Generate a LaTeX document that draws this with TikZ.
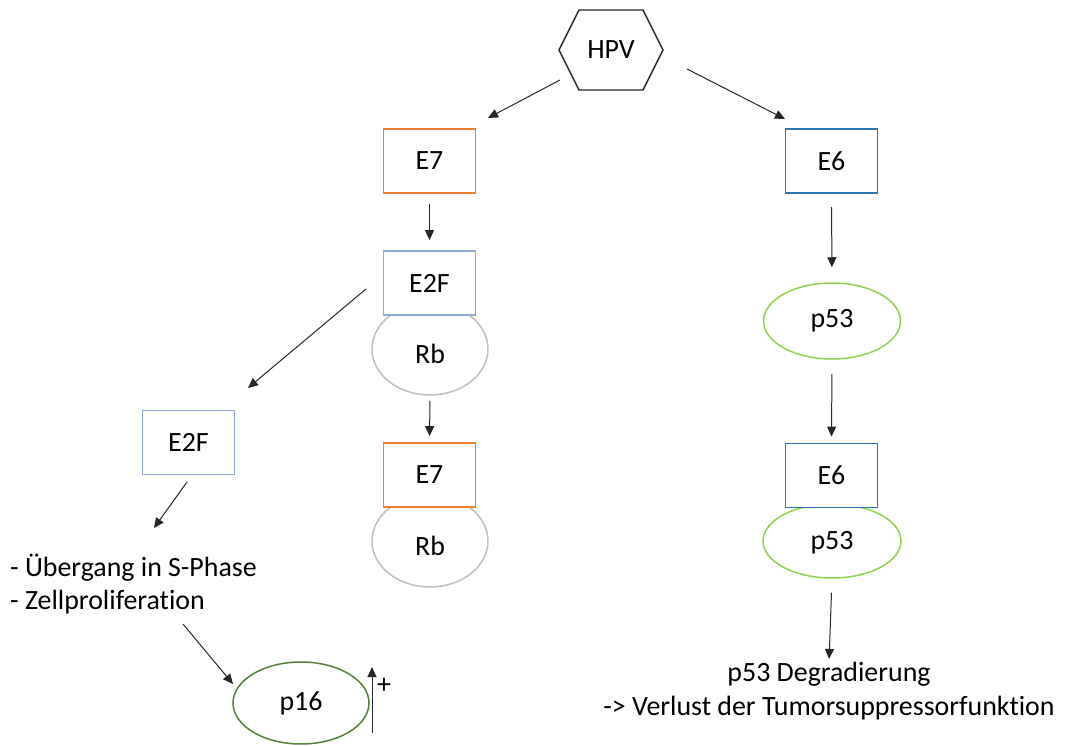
\documentclass[tikz,border=0pt]{standalone}
\usepackage{fontspec}
\setmainfont{Carlito}[Ligatures=NoCommon]
\usetikzlibrary{shapes.geometric,arrows.meta}
\definecolor{corange}{HTML}{ED7D31}
\definecolor{cblue}{HTML}{2E75B6}
\definecolor{clblue}{HTML}{8FAADC}
\definecolor{cgray}{HTML}{BFBFBF}
\definecolor{clgreen}{HTML}{92D050}
\definecolor{cdgreen}{HTML}{548235}
\tikzset{
  lbl/.style={font=\fontsize{28}{34}\selectfont},
  boxnode/.style={lbl, line width=1.8bp, fill=white, minimum width=92bp, minimum height=64bp, inner sep=0pt},
  ellnode/.style={lbl, ellipse, line width=1.5bp, fill=white, inner sep=0pt},
  arr/.style={draw=black!85, line width=1bp, -{Triangle[length=10bp,width=9bp]}},
}
\begin{document}
\begin{tikzpicture}[x=1bp,y=-1bp]
\useasboundingbox (0,0) rectangle (1065,746);
% HPV hexagon
\coordinate (h1) at (559,50);
\coordinate (h2) at (579,10);
\coordinate (h3) at (643,10);
\coordinate (h4) at (663,50);
\coordinate (h5) at (643,90);
\coordinate (h6) at (579,90);
\draw[line width=1.4bp, black!85] (h1) -- (h2) -- (h3) -- (h4) -- (h5) -- (h6) -- cycle;
\node[lbl] (hpv) at (611,50) {HPV};
% left branch
\node[boxnode, draw=corange] (e7a) at (429.5,161) {E7};
\node[ellnode, draw=cgray, minimum width=116bp, minimum height=92bp] (rba) at (430,349) {};
\node[boxnode, draw=clblue] (e2fa) at (429.5,283) {E2F};
\node[lbl] (rbalbl) at (430,354) {Rb};
\node[ellnode, draw=cgray, minimum width=116bp, minimum height=92bp] (rbb) at (430,541) {};
\node[boxnode, draw=corange] (e7b) at (429.5,475) {E7};
\node[lbl] (rbblbl) at (430,546) {Rb};
\node[boxnode, draw=clblue] (e2fb) at (188.5,442.5) {E2F};
\node[lbl, align=left, anchor=west, inner sep=0pt] (sphase) at (10,584) {- Übergang in S-Phase\\- Zellproliferation};
\node[ellnode, draw=cdgreen, minimum width=136bp, minimum height=82bp] (p16) at (301,703) {p16};
% right branch
\node[boxnode, draw=cblue] (e6a) at (831.5,161) {E6};
\node[ellnode, draw=clgreen, minimum width=137bp, minimum height=76bp] (p53a) at (832,321) {p53};
\node[ellnode, draw=clgreen, minimum width=138bp, minimum height=74bp] (p53b) at (832,541) {};
\node[boxnode, draw=cblue] (e6b) at (831.5,475.5) {E6};
\node[lbl] (p53blbl) at (832,543) {p53};
\node[lbl, align=center, inner sep=0pt] (degr) at (829,691) {p53 Degradierung\\-> Verlust der Tumorsuppressorfunktion};
% connectors
\coordinate (a1s) at (560,80); \coordinate (a1e) at (488,118);
\coordinate (a2s) at (687,69); \coordinate (a2e) at (785,119);
\coordinate (a3s) at (366,289); \coordinate (a3e) at (248,388);
\coordinate (a4s) at (187,482); \coordinate (a4e) at (154,528);
\coordinate (a5s) at (183,624); \coordinate (a5e) at (233,684);
\draw[arr] (a1s) -- (a1e);
\draw[arr] (a2s) -- (a2e);
\draw[arr] (a3s) -- (a3e);
\draw[arr] (a4s) -- (a4e);
\draw[arr] (a5s) -- (a5e);
\draw[arr, shorten <=10bp, shorten >=10bp] (e7a.south) -- (e2fa.north);
\draw[arr, shorten <=5bp, shorten >=6bp] (rba.south) -- (e7b.north);
\draw[arr, shorten <=13bp, shorten >=15bp] (e6a.south) -- (p53a.north);
\draw[arr, shorten <=14bp, shorten >=6bp] (p53a.south) -- (e6b.north);
\draw[arr, shorten <=14bp, shorten >=3bp] (p53b.south) -- (degr.north);
% p16 up arrow
\coordinate (u1) at (372,733); \coordinate (u2) at (372,667);
\draw[arr] (u1) -- (u2);
\node[font=\fontsize{28}{32}\selectfont, inner sep=0pt] (plus) at (384,686) {+};
\end{tikzpicture}
\end{document}
